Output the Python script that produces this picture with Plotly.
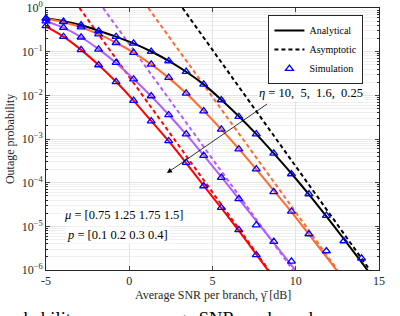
import plotly.graph_objects as go

# ---------------- data ----------------
snr_grid = [-5.00, -3.95, -2.89, -1.84, -0.79, 0.26, 1.32, 2.37, 3.42, 4.47,
            5.53, 6.58, 7.63, 8.68, 9.74, 10.79, 11.84, 12.89, 13.95, 15.00]

eta_labels = ["10", "5", "1.6", "0.25"]
colors = ["#000000", "#FF6A2E", "#B35CFF", "#FF0000"]

# analytical curves (values at snr_grid points)
ana_eta10 = [0.581, 0.501, 0.407, 0.302, 0.221, 0.155, 0.101, 0.0617, 0.0347, 0.0178,
             7.94e-3, 3.31e-3, 1.29e-3, 4.68e-4, 1.62e-4, 5.37e-5, 1.70e-5, 5.13e-6, 1.51e-6, 4.37e-7]
ana_eta5 = [0.575, 0.473, 0.363, 0.251, 0.160, 0.0955, 0.0513, 0.0251, 0.0111, 4.42e-3,
            1.66e-3, 5.96e-4, 2.02e-4, 6.61e-5, 2.14e-5, 6.61e-6, 2.00e-6, 6.03e-7]
ana_eta16 = [0.501, 0.355, 0.214, 0.114, 0.0550, 0.0237, 9.55e-3, 3.59e-3, 1.27e-3, 4.22e-4,
             1.35e-4, 4.27e-5, 1.33e-5, 4.17e-6, 1.29e-6, 3.89e-7]
ana_eta025 = [0.380, 0.221, 0.110, 0.0495, 0.0204, 7.59e-3, 2.60e-3, 8.91e-4, 2.82e-4, 8.51e-5,
              2.63e-5, 7.94e-6, 2.29e-6, 6.46e-7]

# simulation points (at snr_grid points)
sim_eta10 = [0.581, 0.486, 0.407, 0.297, 0.220, 0.155, 0.100, 0.0611, 0.0348, 0.0178,
             7.82e-3, 3.24e-3, 1.29e-3, 4.68e-4, 1.58e-4, 5.50e-5, 1.76e-5, 4.62e-6, 1.86e-6]
sim_eta5 = [0.575, 0.479, 0.363, 0.251, 0.160, 0.0955, 0.0513, 0.0254, 0.0111, 4.37e-3,
            1.66e-3, 5.89e-4, 2.04e-4, 6.17e-5, 2.19e-5, 6.68e-6, 2.72e-6]
sim_eta16 = [0.501, 0.355, 0.214, 0.113, 0.0562, 0.0234, 9.66e-3, 3.55e-3, 1.29e-3, 4.17e-4,
             1.30e-4, 4.27e-5, 1.07e-5, 4.47e-6, 1.58e-6]
sim_eta025 = [0.389, 0.220, 0.110, 0.0495, 0.0204, 7.59e-3, 2.57e-3, 9.02e-4, 2.88e-4, 8.39e-5,
              2.67e-5, 8.32e-6, 2.21e-6]

# asymptotic lines: SNR where they cross P = 1 and P = 1e-6
asym_p = [1.0, 1e-6]
asym_eta10 = [3.20, 14.45]
asym_eta5 = [1.14, 12.50]
asym_eta16 = [-1.57, 9.83]
asym_eta025 = [-2.99, 8.37]

x_ticks = [-5, 0, 5, 10, 15]
x_ticktext = ["-5", "0", "5", "10", "15"]
y_tickvals = [1e-6, 1e-5, 1e-4, 1e-3, 1e-2, 1e-1, 1]
y_ticktext = ["10<sup>−6</sup>", "10<sup>−5</sup>", "10<sup>−4</sup>", "10<sup>−3</sup>",
              "10<sup>−2</sup>", "10<sup>−1</sup>", "10<sup>0</sup>"]

ana = [ana_eta10, ana_eta5, ana_eta16, ana_eta025]
sim = [sim_eta10, sim_eta5, sim_eta16, sim_eta025]
asym = [asym_eta10, asym_eta5, asym_eta16, asym_eta025]

FONT = "Liberation Serif"
AXC = "#262626"

fig = go.Figure()

# asymptotic (dashed)
for c, a in zip(colors, asym):
    fig.add_trace(go.Scatter(x=a, y=asym_p, mode="lines", showlegend=False,
                             line=dict(color=c, width=2, dash="4px,3px")))
# analytical (solid)
for c, v in zip(colors, ana):
    fig.add_trace(go.Scatter(x=snr_grid[:len(v)], y=v, mode="lines", showlegend=False,
                             line=dict(color=c, width=2, shape="spline", smoothing=0.6)))
# simulation (triangles)
for v in sim:
    fig.add_trace(go.Scatter(x=snr_grid[:len(v)], y=v, mode="markers", showlegend=False,
                             cliponaxis=False,
                             marker=dict(symbol="triangle-up-open", size=7, color="#0000FF",
                                         line=dict(width=1.3, color="#0000FF"))))

# legend entries
fig.add_trace(go.Scatter(x=[None], y=[None], mode="lines", name="Analytical",
                         line=dict(color="black", width=2)))
fig.add_trace(go.Scatter(x=[None], y=[None], mode="lines", name="Asymptotic",
                         line=dict(color="black", width=2, dash="4px,3px")))
fig.add_trace(go.Scatter(x=[None], y=[None], mode="markers", name="Simulation",
                         marker=dict(symbol="triangle-up-open", size=7, color="#0000FF",
                                     line=dict(width=1.3, color="#0000FF"))))

# arrow and annotations
fig.add_annotation(x=2.26, y=-3.78, ax=8.37, ay=-2.175, xref="x", yref="y",
                   axref="x", ayref="y", text="", showarrow=True,
                   arrowhead=2, arrowsize=1.3, arrowwidth=0.8, arrowcolor="black")
fig.add_annotation(x=10.89, y=-1.946, xref="x", yref="y", showarrow=False,
                   text="<i>η</i> = 10,  5,  1.6,  0.25", bgcolor="white",
                   font=dict(family=FONT, size=12.5, color="black"))
fig.add_annotation(x=-0.34, y=-4.74, xref="x", yref="y", showarrow=False,
                   text="<i>μ</i> = [0.75 1.25 1.75 1.5]", bgcolor="white",
                   font=dict(family=FONT, size=12.5, color="black"))
fig.add_annotation(x=-0.70, y=-5.20, xref="x", yref="y", showarrow=False,
                   text="<i>p</i> = [0.1 0.2 0.3 0.4]", bgcolor="white",
                   font=dict(family=FONT, size=12.5, color="black"))

# axis titles
fig.add_annotation(x=0.5, y=-0.094, xref="paper", yref="paper", yanchor="middle",
                   showarrow=False, text="Average SNR per branch, γ̄ [dB]",
                   font=dict(family=FONT, size=12, color=AXC))
fig.add_annotation(x=-0.135, y=0.5, xref="paper", yref="paper", textangle=-90,
                   showarrow=False, text="Outage probability",
                   font=dict(family=FONT, size=12, color=AXC))

# partially visible caption text under the figure
fig.add_annotation(x=-0.147, y=-0.141, xref="paper", yref="paper", xanchor="left",
                   yanchor="top", showarrow=False,
                   text="probability versus average SNR per branch",
                   font=dict(family=FONT, size=18.5, color="black"))

fig.update_xaxes(range=[-5, 15], tickvals=x_ticks, ticktext=x_ticktext, ticks="inside",
                 ticklen=4, mirror="allticks", showline=True, linecolor=AXC, linewidth=1,
                 showgrid=True, gridcolor="#e3e3e3", gridwidth=1, zeroline=False,
                 automargin=False,
                 tickfont=dict(family=FONT, size=12, color=AXC))
fig.update_yaxes(type="log", range=[-6, 0], tickvals=y_tickvals, ticktext=y_ticktext,
                 ticks="inside", ticklen=4, mirror="allticks", showline=True,
                 linecolor=AXC, linewidth=1, showgrid=True, gridcolor="#e3e3e3",
                 automargin=False,
                 minor=dict(dtick="D1", ticks="inside", ticklen=2, showgrid=True,
                            gridcolor="#efefef", gridwidth=1, tickcolor=AXC),
                 tickfont=dict(family=FONT, size=12, color=AXC))

fig.update_layout(width=400, height=316,
                  margin=dict(l=46, r=21, t=8, b=46, autoexpand=False),
                  paper_bgcolor="white", plot_bgcolor="white",
                  showlegend=True,
                  legend=dict(x=0.668, y=0.973, xanchor="left", yanchor="top",
                              bgcolor="white", bordercolor=AXC, borderwidth=1,
                              font=dict(family=FONT, size=10, color="black"),
                              itemwidth=30, tracegroupgap=0))

fig.write_html("out.html", config={"displayModeBar": False},
               post_script="document.body.style.margin='0';document.body.style.padding='0';")
